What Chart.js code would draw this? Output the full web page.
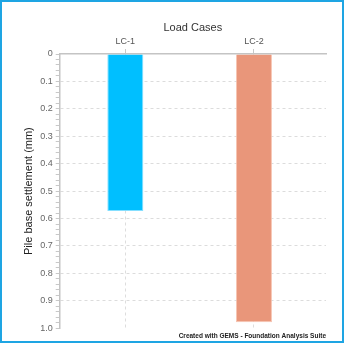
<!DOCTYPE html>
<html>
<head>
<meta charset="utf-8">
<script src="https://cdn.jsdelivr.net/npm/chart.js@4"></script>
<style>
html,body{margin:0;padding:0;background:#fff;}
#wrap{position:relative;width:344px;height:343px;box-sizing:border-box;border:2px solid #1ea5e3;background:#fff;}
</style>
</head>
<body>
<div id="wrap"><canvas id="c"></canvas></div>
<script>
const categories = ['LC-1', 'LC-2'];
const settlement = [0.573, 0.978];
const barColors = ['#00BFFF', '#E9967A'];
const barEdges = ['rgba(120,220,255,0.9)', 'rgba(245,190,170,0.9)'];
const yTitle = 'Pile base settlement (mm)';
const xTitle = 'Load Cases';
const credit = 'Created with GEMS - Foundation Analysis Suite';

function isMajor(v){ return Math.abs(v*10 - Math.round(v*10)) < 1e-6; }

const points = categories.map((c, i) => ({ x: i + 1, y: settlement[i] }));

new Chart(document.getElementById('c'), {
  type: 'bar',
  data: {
    datasets: [{
      data: points,
      backgroundColor: barColors,
      borderColor: barEdges,
      borderWidth: 1,
      barPercentage: 1,
      categoryPercentage: 0.28
    }]
  },
  options: {
    responsive: true,
    maintainAspectRatio: false,
    animation: false,
    layout: { padding: { left: 20, right: 16, top: 19, bottom: 0 } },
    plugins: {
      legend: { display: false },
      tooltip: { enabled: false },
      title: {
        display: true,
        text: credit,
        position: 'bottom',
        align: 'end',
        color: '#222',
        font: { family: 'Liberation Sans, Arial, sans-serif', size: 6.5 },
        padding: { top: 4, bottom: 1 }
      }
    },
    scales: {
      x: {
        type: 'linear',
        position: 'top',
        offset: false,
        min: 0.49,
        max: 2.56,
        afterBuildTicks: function(axis){
          axis.ticks = categories.map((c, i) => ({ value: i + 1 }));
        },
        title: {
          display: true,
          text: xTitle,
          color: '#333',
          font: { family: 'Liberation Sans, Arial, sans-serif', size: 11 },
          padding: { top: 0, bottom: 0 }
        },
        ticks: {
          autoSkip: false,
          maxRotation: 0,
          color: '#555',
          font: { family: 'Liberation Sans, Arial, sans-serif', size: 9 },
          padding: 2,
          callback: function(v){
            const i = Math.round(v) - 1;
            return categories[i] !== undefined ? categories[i] : '';
          }
        },
        grid: {
          offset: false,
          color: '#dddddd',
          lineWidth: 1,
          tickColor: '#c8c8c8',
          tickLength: 5,
          tickBorderDash: [],
          drawTicks: true
        },
        border: { display: true, color: '#c4c4c4', width: 1.5, dash: [3, 3] }
      },
      y: {
        reverse: true,
        min: 0,
        max: 1,
        title: {
          display: true,
          text: yTitle,
          color: '#222',
          font: { family: 'Liberation Sans, Arial, sans-serif', size: 11 },
          padding: { top: 0, bottom: 2 }
        },
        ticks: {
          stepSize: 0.02,
          autoSkip: false,
          color: '#666',
          font: { family: 'Liberation Sans, Arial, sans-serif', size: 9 },
          padding: 3,
          callback: function(v){
            if (!isMajor(v)) return '';
            if (Math.abs(v) < 1e-9) return '0';
            return v.toFixed(1);
          }
        },
        grid: {
          color: function(ctx){
            const v = ctx.tick ? ctx.tick.value : null;
            if (v === null || v === undefined) return 'rgba(0,0,0,0)';
            if (isMajor(v) && v > 1e-6 && v < 1 - 1e-6) return '#dcdcdc';
            return 'rgba(0,0,0,0)';
          },
          tickColor: '#c8c8c8',
          tickLength: 4,
          tickBorderDash: [],
          lineWidth: 1
        },
        border: { display: true, color: '#c4c4c4', width: 1.5, dash: [3, 3] }
      }
    }
  }
});
</script>
</body>
</html>
